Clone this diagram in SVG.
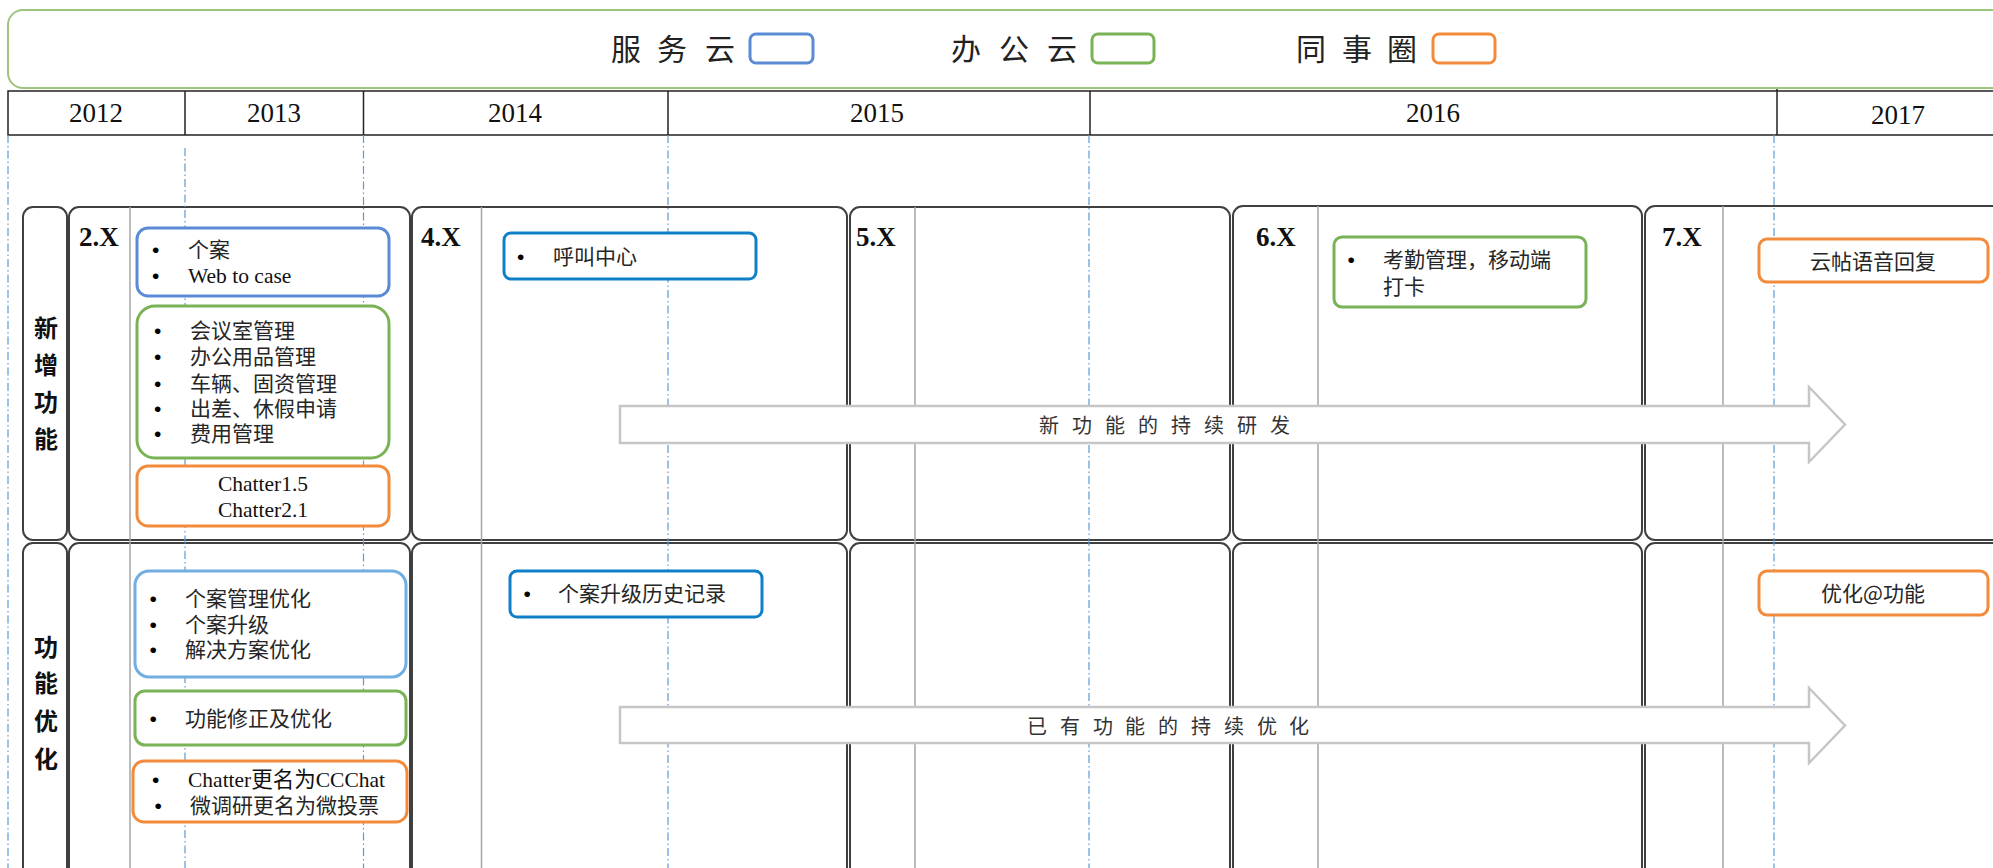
<svg xmlns="http://www.w3.org/2000/svg" width="1993" height="868" viewBox="0 0 1993 868">
<style>
.bg{fill:#fff}
.grid{fill:#fff;stroke:#404040;stroke-width:2}
.inner{stroke:#a6a6a6;stroke-width:1.5;fill:none}
.guide{stroke:#5b9bd5;stroke-width:1.2;stroke-dasharray:8 3 1.5 3;fill:none}
.box{fill:#fff;stroke-width:3}
.blue{stroke:#5b8bd5}
.lblue{stroke:#72aee0}
.dblue{stroke:#0f80c8}
.green{stroke:#79b356}
.orange{stroke:#f28c3c}
.arrow{fill:#fff;stroke:#c6c6c6;stroke-width:2.5}
.year{font-family:"Liberation Serif","Times New Roman",serif;font-size:27px;fill:#111;text-anchor:middle}
.ver{font-family:"Liberation Serif","Times New Roman",serif;font-size:27px;font-weight:bold;fill:#111}
.cjk{font-family:"Noto Sans CJK SC","Liberation Sans",sans-serif;font-size:21px;fill:#262626}
.lat{font-family:"Liberation Serif","Noto Sans CJK SC",serif;font-size:21.5px;fill:#111}
.bul{font-family:"Liberation Sans",sans-serif;font-size:21px;fill:#000}
.leg{font-family:"Noto Sans CJK SC",sans-serif;font-size:30px;fill:#222}
.side{font-family:"Noto Sans CJK SC",sans-serif;font-size:24px;font-weight:bold;fill:#111;text-anchor:middle}
.arr{font-family:"Noto Sans CJK SC",sans-serif;font-size:20px;fill:#333}
</style>
<rect class="bg" x="0" y="0" width="1993" height="868"/>

<g id="legend">
  <rect x="8" y="10" width="2000" height="78" rx="15" fill="#fff" stroke="#9cc47f" stroke-width="2"/>
  <text class="leg" y="60" x="611 641 657 687 705">服 务 云</text>
  <rect class="box blue" x="750" y="34" width="63" height="29" rx="6"/>
  <text class="leg" y="60" x="951 982 999 1030 1047">办 公 云</text>
  <rect class="box green" x="1092" y="34" width="62" height="29" rx="6"/>
  <text class="leg" y="60" x="1296 1326 1342 1372 1387">同 事 圈</text>
  <rect class="box orange" x="1433" y="34" width="62" height="29" rx="6"/>
</g>

<g id="years">
  <rect x="8" y="91" width="2000" height="44" fill="#fff" stroke="#222" stroke-width="1.5"/>
  <line x1="185" y1="91" x2="185" y2="135" stroke="#222" stroke-width="1.5"/>
  <line x1="363.5" y1="91" x2="363.5" y2="135" stroke="#222" stroke-width="1.5"/>
  <line x1="668" y1="91" x2="668" y2="135" stroke="#222" stroke-width="1.5"/>
  <line x1="1090" y1="91" x2="1090" y2="135" stroke="#222" stroke-width="1.5"/>
  <line x1="1777" y1="89" x2="1777" y2="135" stroke="#222" stroke-width="1.5"/>
  <text class="year" x="96" y="122">2012</text>
  <text class="year" x="274" y="122">2013</text>
  <text class="year" x="515" y="122">2014</text>
  <text class="year" x="877" y="122">2015</text>
  <text class="year" x="1433" y="122">2016</text>
  <text class="year" x="1898" y="124">2017</text>
</g>

<g id="grid">
  <rect class="grid" x="23" y="207" width="44" height="333" rx="10"/>
  <rect class="grid" x="69" y="207" width="341" height="333" rx="10"/>
  <rect class="grid" x="412" y="207" width="435" height="333" rx="10"/>
  <rect class="grid" x="850" y="207" width="380" height="333" rx="10"/>
  <rect class="grid" x="1233" y="206" width="409" height="334" rx="10"/>
  <rect class="grid" x="1645" y="206" width="400" height="334" rx="10"/>
  <rect class="grid" x="23" y="543" width="44" height="360" rx="10"/>
  <rect class="grid" x="69" y="543" width="341" height="360" rx="10"/>
  <rect class="grid" x="412" y="543" width="435" height="360" rx="10"/>
  <rect class="grid" x="850" y="543" width="380" height="360" rx="10"/>
  <rect class="grid" x="1233" y="543" width="409" height="360" rx="10"/>
  <rect class="grid" x="1645" y="543" width="400" height="360" rx="10"/>
  <line class="inner" x1="130" y1="207" x2="130" y2="868"/>
  <line class="inner" x1="481.5" y1="207" x2="481.5" y2="868"/>
  <line class="inner" x1="915" y1="207" x2="915" y2="868"/>
  <line class="inner" x1="1318" y1="206" x2="1318" y2="868"/>
  <line class="inner" x1="1723" y1="206" x2="1723" y2="868"/>
  <text class="side"><tspan x="46" y="337">新</tspan><tspan x="46" y="374">增</tspan><tspan x="46" y="411">功</tspan><tspan x="46" y="448">能</tspan></text>
  <text class="side"><tspan x="46" y="656">功</tspan><tspan x="46" y="692">能</tspan><tspan x="46" y="730">优</tspan><tspan x="46" y="768">化</tspan></text>
  <text class="ver" x="79" y="246">2.X</text>
  <text class="ver" x="421" y="246">4.X</text>
  <text class="ver" x="856" y="246">5.X</text>
  <text class="ver" x="1256" y="246">6.X</text>
  <text class="ver" x="1662" y="246">7.X</text>
</g>

<g id="guides">
  <line class="guide" x1="8" y1="135" x2="8" y2="868"/>
  <line class="guide" x1="185" y1="148" x2="185" y2="868"/>
  <line class="guide" x1="363.5" y1="135" x2="363.5" y2="868"/>
  <line class="guide" x1="668" y1="135" x2="668" y2="868"/>
  <line class="guide" x1="1089" y1="135" x2="1089" y2="868"/>
  <line class="guide" x1="1774" y1="135" x2="1774" y2="868"/>
</g>

<g id="arrows">
  <polygon class="arrow" points="620,406 1809,406 1809,387 1845,424.5 1809,462 1809,443 620,443"/>
  <text class="arr" y="433" x="1039 1056 1072 1089 1105 1122 1138 1155 1171 1188 1204 1221 1237 1254 1270">新 功 能 的 持 续 研 发</text>
  <polygon class="arrow" points="620,707 1809,707 1809,688 1845,725.5 1809,763 1809,743 620,743"/>
  <text class="arr" y="734" x="1027 1043 1060 1076 1093 1109 1125 1142 1158 1175 1191 1207 1224 1240 1257 1273 1289">已 有 功 能 的 持 续 优 化</text>
</g>

<g id="box-2x-service">
  <rect class="box blue" x="137" y="228" width="252" height="68" rx="11"/>
  <text class="bul"><tspan x="152" y="257">•</tspan><tspan x="152" y="283">•</tspan></text>
  <text><tspan class="cjk" x="188" y="257">个案</tspan><tspan class="lat" x="188" y="283">Web to case</tspan></text>
</g>
<g id="box-2x-office">
  <rect class="box green" x="137" y="306" width="252" height="152" rx="18"/>
  <text class="bul"><tspan x="154" y="338">•</tspan><tspan x="154" y="364">•</tspan><tspan x="154" y="391">•</tspan><tspan x="154" y="416">•</tspan><tspan x="154" y="441">•</tspan></text>
  <text class="cjk"><tspan x="190" y="338">会议室管理</tspan><tspan x="190" y="364">办公用品管理</tspan><tspan x="190" y="391">车辆、固资管理</tspan><tspan x="190" y="416">出差、休假申请</tspan><tspan x="190" y="441">费用管理</tspan></text>
</g>
<g id="box-2x-circle">
  <rect class="box orange" x="137" y="466" width="252" height="60" rx="11"/>
  <text class="lat" text-anchor="middle"><tspan x="263" y="491">Chatter1.5</tspan><tspan x="263" y="517">Chatter2.1</tspan></text>
</g>
<g id="box-2x-opt-service">
  <rect class="box lblue" x="135" y="571" width="271" height="106" rx="14"/>
  <text class="bul"><tspan x="149.5" y="606">•</tspan><tspan x="149.5" y="632">•</tspan><tspan x="149.5" y="657">•</tspan></text>
  <text class="cjk"><tspan x="185" y="606">个案管理优化</tspan><tspan x="185" y="632">个案升级</tspan><tspan x="185" y="657">解决方案优化</tspan></text>
</g>
<g id="box-2x-opt-office">
  <rect class="box green" x="135" y="691" width="271" height="54" rx="10"/>
  <text class="bul" x="149.5" y="726">•</text><text class="cjk" x="185" y="726">功能修正及优化</text>
</g>
<g id="box-2x-opt-circle">
  <rect class="box orange" x="133" y="761" width="274" height="61" rx="11"/>
  <text class="bul"><tspan x="152" y="787">•</tspan><tspan x="154.5" y="813">•</tspan></text>
  <text><tspan class="lat" x="188" y="787">Chatter更名为CCChat</tspan><tspan class="cjk" x="190" y="813">微调研更名为微投票</tspan></text>
</g>
<g id="box-4x-callcenter">
  <rect class="box dblue" x="504" y="233" width="252" height="46" rx="7"/>
  <text class="bul" x="517" y="264">•</text><text class="cjk" x="553" y="264">呼叫中心</text>
</g>
<g id="box-4x-history">
  <rect class="box dblue" x="510" y="571" width="252" height="46" rx="7"/>
  <text class="bul" x="523.5" y="601">•</text><text class="cjk" x="558" y="601">个案升级历史记录</text>
</g>
<g id="box-6x-attendance">
  <rect class="box green" x="1334" y="237" width="252" height="70" rx="8"/>
  <text class="bul" x="1347.5" y="267">•</text>
  <text class="cjk"><tspan x="1383" y="267">考勤管理，移动端</tspan><tspan x="1383" y="294">打卡</tspan></text>
</g>
<g id="box-7x-voice">
  <rect class="box orange" x="1759" y="239" width="229" height="43" rx="8"/>
  <text class="cjk" x="1873" y="269" text-anchor="middle">云帖语音回复</text>
</g>
<g id="box-7x-at">
  <rect class="box orange" x="1759" y="571" width="229" height="44" rx="8"/>
  <text class="cjk" x="1873" y="601" text-anchor="middle">优化@功能</text>
</g>
</svg>
